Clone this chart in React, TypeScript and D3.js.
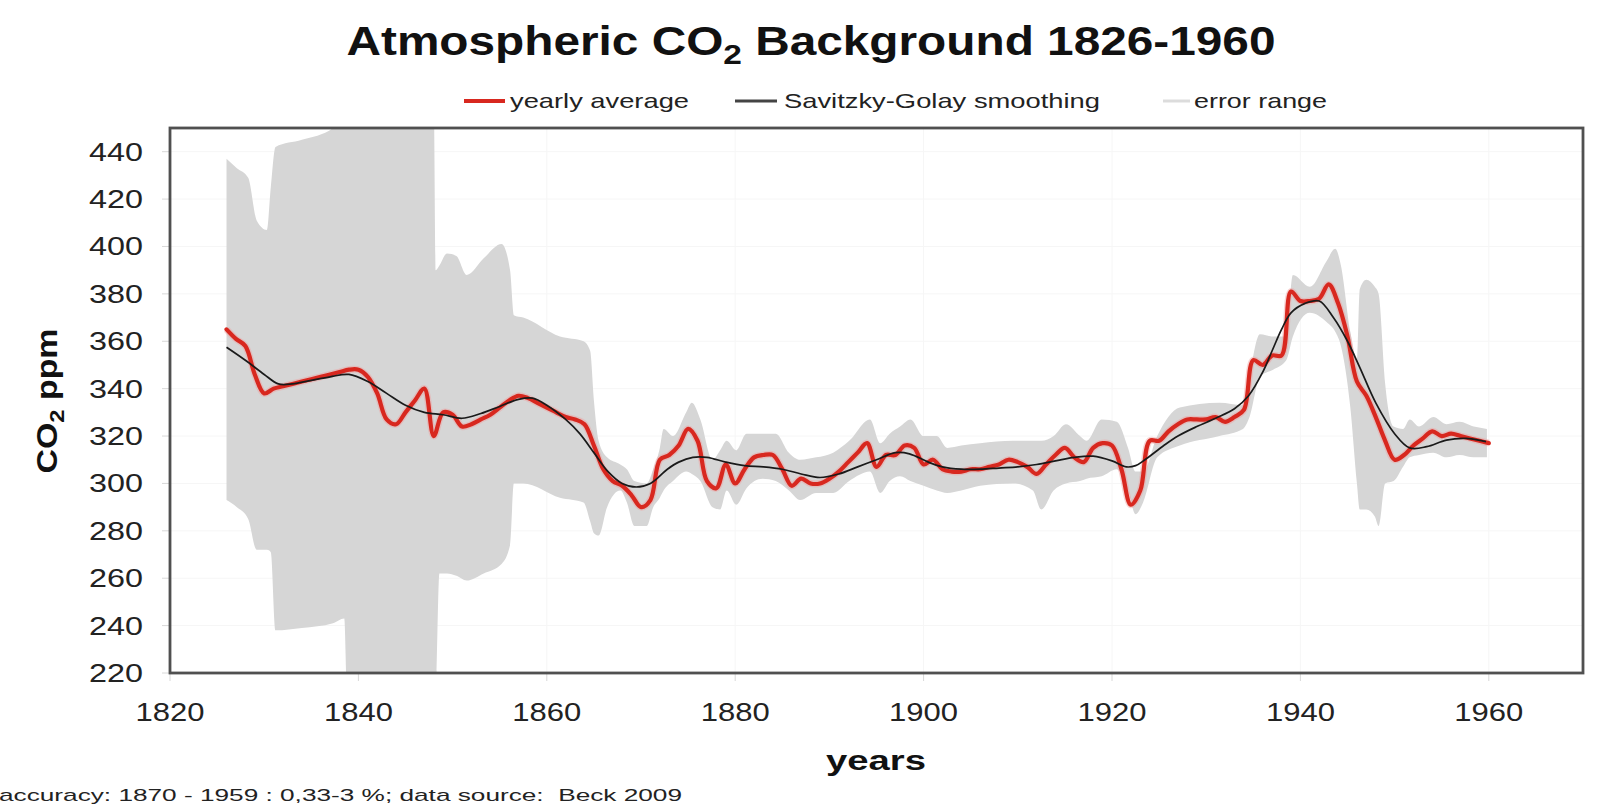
import React from 'react';
import * as d3 from 'd3';

const W = 1600;
const H = 805;
const PLOT = { left: 170, right: 1583, top: 128, bottom: 673 };
const FONT = '"Liberation Sans", Arial, Helvetica, sans-serif';

// yearly average, 1826..1960
const yearlyYears = d3.range(1826, 1961);
const yearlyAverage = [
  365, 361, 358, 346, 338, 340, 341, 342, 343, 344,
  345, 346, 347, 348, 348, 345, 338, 327, 325, 330,
  335, 340, 320, 330, 329, 324, 325, 327, 329, 332,
  335, 337, 336, 334, 332, 330, 328, 327, 325, 316,
  306, 301, 299, 295, 290, 293, 310, 312, 316, 323,
  318, 301, 298, 308, 300, 306, 311, 312, 312, 306,
  299, 302, 300, 300, 302, 305, 309, 313, 317, 307,
  312, 312, 316, 315, 308, 310, 306, 305, 305, 306,
  306, 307, 308, 310, 309, 307, 304, 308, 312, 315,
  311, 309, 315, 317, 316, 306, 291, 297, 318, 318,
  322, 325, 327, 327, 327, 328, 326, 328, 331, 352,
  350, 354, 354, 381, 377, 377, 378, 384, 376, 362,
  343, 337, 328, 318, 310, 312, 316, 319, 322, 320,
  321, 320, 319, 318, 317,
];

// Savitzky-Golay smoothing
const smoothYears = [
  1826, 1828, 1830, 1831.5, 1833, 1835, 1837, 1839, 1841, 1843,
  1845, 1847, 1849, 1851, 1853, 1855, 1857, 1858.5, 1860, 1862,
  1863.5, 1865, 1866.5, 1868, 1869.5, 1871, 1872.8, 1874, 1875.5, 1877,
  1879, 1881, 1883, 1885, 1887, 1889, 1891, 1893, 1895, 1897,
  1898.5, 1900.5, 1902, 1904, 1906, 1908, 1910, 1912, 1914, 1916,
  1918, 1920, 1921.5, 1922.5, 1923.5, 1925.5, 1927, 1929, 1931, 1933,
  1934.5, 1936, 1937, 1938, 1939, 1940.5, 1942, 1943.5, 1945, 1946.3,
  1948, 1950, 1951.6, 1953.4, 1955.5, 1957.6, 1959.7,
];
const smoothValues = [
  357.5, 352, 346, 342, 342, 343.5, 345, 346, 343, 338,
  333, 330, 329, 327.5, 329.5, 332.5, 335.5, 336, 333, 327,
  321, 313, 305, 300, 298.5, 300, 306, 309, 311, 311,
  309, 307.5, 307, 306, 304, 302.5, 304, 307, 310, 313,
  312.5, 309, 307, 306, 306, 306.5, 307, 308, 309.5, 311,
  311.5, 309.5, 307, 307.5, 310, 316, 320, 324, 327.5, 331.5,
  337, 347, 356, 365, 372, 376, 377, 370, 360, 349,
  334, 321, 315, 315.5, 318.3, 319, 317.6,
];

// error range envelope
const errYears = [
  1826, 1827.1, 1828.3, 1829.2, 1830.3, 1830.7, 1831.2, 1834, 1837.3, 1838.5,
  1838.8, 1848, 1848.2, 1848.6, 1849.4, 1850.4, 1851.5, 1853.3, 1855.2, 1856.1,
  1856.5, 1857.5, 1861.4, 1863.9, 1864.6, 1865, 1865.5, 1866.4, 1867.8, 1868.5,
  1869.3, 1870.6, 1871.3, 1872, 1872.4, 1873.4, 1874.8, 1875.4, 1876.3, 1877.6,
  1878.4, 1879.1, 1880.1, 1881.2, 1882.9, 1884.3, 1885.7, 1886.9, 1888.6, 1890.4,
  1892.1, 1894.3, 1895.4, 1896.4, 1897.5, 1898.6, 1900, 1901.4, 1902.5, 1904,
  1906, 1909.5, 1911.6, 1912.5, 1913.8, 1915.1, 1916.6, 1917.3, 1918.9, 1920.5,
  1921.7, 1922.5, 1923.3, 1924.8, 1927.2, 1931.4, 1933.9, 1934.6, 1935.7, 1937.1,
  1938.5, 1939.2, 1941, 1942.8, 1943.7, 1944.3, 1945.3, 1946, 1946.3, 1947,
  1947.9, 1948.3, 1949, 1949.9, 1950.9, 1951.6, 1952.6, 1954.1, 1955.5, 1956.9,
  1958.4, 1959.8,
];
const errHigh = [
  437, 433, 429, 411, 407, 425, 442, 445, 450, 455,
  458, 460, 390, 392, 397, 396, 388, 395, 401, 390,
  371, 370, 362, 360, 356, 335, 318, 311, 308, 306,
  301, 300, 306, 315, 323, 320, 330, 334, 327, 310,
  314, 318, 314, 321, 321, 321, 313, 310, 311, 313,
  318, 327, 317, 321, 324, 327, 320, 320, 315, 316,
  317, 318, 318, 318, 320, 325, 320, 318, 327, 326,
  315, 305, 305, 320, 332, 334, 333, 346, 363, 362,
  362, 388, 383, 394, 399, 392, 364, 352, 382, 386,
  383, 380, 342, 324, 323, 327, 324, 328, 325, 326,
  324, 323,
];
const errLow = [
  293, 290, 285, 272, 272, 271, 238, 239, 241, 243,
  210, 210, 210, 262, 262, 261, 259, 262, 266, 274,
  300, 300, 294, 292, 284, 279, 278, 290, 297, 292,
  282, 282, 290, 294, 297, 301, 305, 304, 301, 290,
  289, 297, 291, 298, 302, 301, 297, 293, 296, 296,
  301, 305, 296, 301, 303, 301, 299, 297, 296, 297,
  299, 300, 297, 289, 297, 300, 301, 302, 303, 306,
  297, 287, 292, 311, 316, 320, 323, 328, 345, 348,
  352, 362, 372, 368, 364, 358, 332, 300, 289, 289,
  286, 282, 300, 301, 307, 311, 312, 313, 311, 312,
  311, 311,
];

const xTicks = [1820, 1840, 1860, 1880, 1900, 1920, 1940, 1960];
const yTicks = [220, 240, 260, 280, 300, 320, 340, 360, 380, 400, 420, 440];

const titleText = ['Atmospheric CO', '2', ' Background 1826-1960'];
const legendLabels = ['yearly average', 'Savitzky-Golay smoothing', 'error range'];
const yTitle = ['CO', '2', ' ppm'];
const xTitle = 'years';
const footnote = 'accuracy: 1870 - 1959 : 0,33-3 %; data source:  Beck 2009';

export default function App() {
  const x = d3.scaleLinear().domain([1820, 1970]).range([PLOT.left, PLOT.right]);
  const y = d3.scaleLinear().domain([220, 450]).range([PLOT.bottom, PLOT.top]);

  const band = d3
    .area<number>()
    .x((_, i) => x(errYears[i]))
    .y0((_, i) => y(errLow[i]))
    .y1((_, i) => y(errHigh[i]))
    .curve(d3.curveMonotoneX)(errYears) as string;

  const redPath = d3
    .line<number>()
    .x((_, i) => x(yearlyYears[i]))
    .y((d) => y(d))
    .curve(d3.curveCatmullRom.alpha(0.5))(yearlyAverage) as string;

  const smoothPath = d3
    .line<number>()
    .x((_, i) => x(smoothYears[i]))
    .y((d) => y(d))
    .curve(d3.curveCatmullRom.alpha(0.5))(smoothValues) as string;

  return (
    <svg
      width={W}
      height={H}
      viewBox={`0 0 ${W} ${H}`}
      style={{ position: 'fixed', left: 0, top: 0, background: '#fff' }}
      fontFamily={FONT}
    >
      <defs>
        <clipPath id="plotclip">
          <rect x={PLOT.left} y={PLOT.top} width={PLOT.right - PLOT.left} height={PLOT.bottom - PLOT.top} />
        </clipPath>
      </defs>
      <rect x={0} y={0} width={W} height={H} fill="#fff" />

      {/* title */}
      <text x={811} y={55} textAnchor="middle" fontSize={40} fontWeight="bold" fill="#111"
        textLength={929} lengthAdjust="spacingAndGlyphs">
        {titleText[0]}
        <tspan dy={9} fontSize={28}>{titleText[1]}</tspan>
        <tspan dy={-9}>{titleText[2]}</tspan>
      </text>

      {/* legend */}
      <line x1={464} x2={505} y1={101} y2={101} stroke="#d8281f" strokeWidth={4} />
      <text x={510} y={108} fontSize={21} fill="#222" textLength={179} lengthAdjust="spacingAndGlyphs">{legendLabels[0]}</text>
      <line x1={735} x2={777} y1={101} y2={101} stroke="#444" strokeWidth={3} />
      <text x={784} y={108} fontSize={21} fill="#222" textLength={316} lengthAdjust="spacingAndGlyphs">{legendLabels[1]}</text>
      <line x1={1163} x2={1190} y1={101} y2={101} stroke="#dcdcdc" strokeWidth={3} />
      <text x={1194} y={108} fontSize={21} fill="#222" textLength={133} lengthAdjust="spacingAndGlyphs">{legendLabels[2]}</text>

      {/* faint grid */}
      <g stroke="#f6f6f6" strokeWidth={1}>
        {xTicks.map((t) => (
          <line key={'gx' + t} x1={x(t)} x2={x(t)} y1={PLOT.top} y2={PLOT.bottom} />
        ))}
        {yTicks.map((t) => (
          <line key={'gy' + t} x1={PLOT.left} x2={PLOT.right} y1={y(t)} y2={y(t)} />
        ))}
      </g>

      {/* data */}
      <g clipPath="url(#plotclip)">
        <path d={band} fill="#d6d6d6" stroke="none" />
        <path d={redPath} fill="none" stroke="#f0a0a0" strokeWidth={7} strokeOpacity={0.45} strokeLinejoin="round" />
        <path d={redPath} fill="none" stroke="#d8281f" strokeWidth={4.2} strokeLinejoin="round" strokeLinecap="round" />
        <path d={smoothPath} fill="none" stroke="#1a1a1a" strokeWidth={1.7} strokeLinejoin="round" />
      </g>

      {/* ticks */}
      <g stroke="#d8d8d8" strokeWidth={1}>
        {xTicks.map((t) => (
          <line key={'tx' + t} x1={x(t)} x2={x(t)} y1={PLOT.bottom} y2={PLOT.bottom + 8} />
        ))}
        {yTicks.map((t) => (
          <line key={'ty' + t} x1={PLOT.left - 8} x2={PLOT.left} y1={y(t)} y2={y(t)} />
        ))}
      </g>

      {/* border */}
      <rect x={PLOT.left} y={PLOT.top} width={PLOT.right - PLOT.left} height={PLOT.bottom - PLOT.top}
        fill="none" stroke="#505050" strokeWidth={2.8} />

      {/* y tick labels */}
      {yTicks.map((t) => (
        <text key={'ly' + t} x={143} y={y(t) + 9} textAnchor="end" fontSize={25} fill="#222"
          textLength={54} lengthAdjust="spacingAndGlyphs">{t}</text>
      ))}
      {/* x tick labels */}
      {xTicks.map((t) => (
        <text key={'lx' + t} x={x(t)} y={721} textAnchor="middle" fontSize={25} fill="#222"
          textLength={69} lengthAdjust="spacingAndGlyphs">{t}</text>
      ))}

      {/* axis titles */}
      <text transform="translate(57,401) rotate(-90)" textAnchor="middle" fontSize={30} fontWeight="bold" fill="#111"
        textLength={145} lengthAdjust="spacingAndGlyphs">
        {yTitle[0]}
        <tspan dy={7} fontSize={21}>{yTitle[1]}</tspan>
        <tspan dy={-7}>{yTitle[2]}</tspan>
      </text>
      <text x={876} y={770} textAnchor="middle" fontSize={28} fontWeight="bold" fill="#111"
        textLength={100} lengthAdjust="spacingAndGlyphs">{xTitle}</text>

      {/* footnote */}
      <text x={-1} y={801} fontSize={17} fill="#222" textLength={683} lengthAdjust="spacingAndGlyphs"
        style={{ whiteSpace: 'pre' }}>{footnote}</text>
    </svg>
  );
}
